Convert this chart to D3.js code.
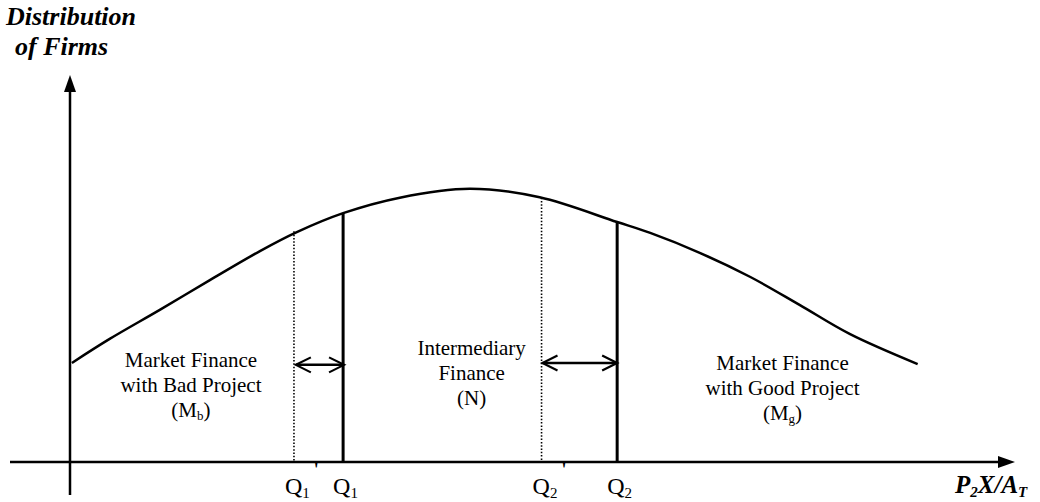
<!DOCTYPE html>
<html>
<head>
<meta charset="utf-8">
<script src="https://cdn.jsdelivr.net/npm/d3@7"></script>
<style>
  html, body { margin: 0; padding: 0; background: #fff; }
  svg { display: block; }
  text { font-family: "Liberation Serif", "Times New Roman", serif; fill: #000; }
</style>
</head>
<body>
<svg id="chart"></svg>
<script>
// Distribution curve (x = P2X/AT position, y = density)
const curveX = [0.2, 4.2, 9.5, 14.8, 20.1, 24.0, 28.9, 34.9, 42.3, 49.7, 57.9, 61.4, 66.7, 72.0, 77.2, 82.5, 89.7];
const curveY = [25.6, 31.8, 39.3, 47.0, 54.5, 59.4, 64.3, 68.3, 70.6, 68.4, 62.0, 59.2, 54.0, 47.8, 40.6, 33.1, 25.3];

// Cutoff points Q1', Q1, Q2', Q2
const cutoffX = [23.7, 28.9, 49.9, 57.9];
const cutoffTop = [59.6, 64.3, 68.3, 62.0];
const cutoffSub = ["1", "1", "2", "2"];
const cutoffPrime = [true, false, true, false];

// Double arrows between shifted cutoffs
const arrowFrom = [23.9, 50.0];
const arrowTo = [29.0, 57.9];
const arrowLevel = [25.1, 25.6];

// Region labels
const regionX = [12.8, 42.5, 75.4];
const regionY = [24.5, 27.6, 23.8];
const regionLines = [
    ["Market Finance", "with Bad Project"],
    ["Intermediary", "Finance"],
    ["Market Finance", "with Good Project"]
];
const regionSymbol = [["(M", "b", ")"], ["(N", "", ")"], ["(M", "g", ")"]];

const dimensions = { width: 1040, height: 502 };

const xScale = d3.scaleLinear().domain([0, 100]).range([70, 1015]);
const yScale = d3.scaleLinear().domain([0, 100]).range([462, 75]);

const svg = d3.select("#chart")
    .attr("width", dimensions.width)
    .attr("height", dimensions.height);

// Axes
svg.append("line")
    .attr("x1", 10).attr("x2", xScale(100) - 8)
    .attr("y1", yScale(0)).attr("y2", yScale(0))
    .attr("stroke", "#000").attr("stroke-width", 2.5);
svg.append("path")
    .attr("d", `M${xScale(100) - 17},${yScale(0) - 6} L${xScale(100)},${yScale(0)} L${xScale(100) - 17},${yScale(0) + 6} Z`)
    .attr("fill", "#000");

svg.append("line")
    .attr("x1", xScale(0)).attr("x2", xScale(0))
    .attr("y1", yScale(100) + 8).attr("y2", 495)
    .attr("stroke", "#000").attr("stroke-width", 2.5);
svg.append("path")
    .attr("d", `M${xScale(0) - 6},${yScale(100) + 17} L${xScale(0)},${yScale(100)} L${xScale(0) + 6},${yScale(100) + 17} Z`)
    .attr("fill", "#000");

// Curve
const line = d3.line()
    .x((d, i) => xScale(curveX[i]))
    .y(d => yScale(d))
    .curve(d3.curveCatmullRom);

svg.append("path")
    .datum(curveY)
    .attr("d", line)
    .attr("fill", "none")
    .attr("stroke", "#000")
    .attr("stroke-width", 2.5);

// Cutoff lines
cutoffX.forEach((cx, i) => {
    svg.append("line")
        .attr("x1", xScale(cx)).attr("x2", xScale(cx))
        .attr("y1", yScale(cutoffTop[i])).attr("y2", yScale(0))
        .attr("stroke", "#000")
        .attr("stroke-width", cutoffPrime[i] ? 1.6 : 3)
        .attr("stroke-dasharray", cutoffPrime[i] ? "1.5,1.8" : null);

    const t = svg.append("text")
        .attr("x", xScale(cx) + (cutoffPrime[i] ? -9 : -10))
        .attr("y", 494)
        .style("font-size", "24px");
    t.append("tspan").text("Q");
    t.append("tspan").attr("dy", 4).style("font-size", "15px").text(cutoffSub[i]);
    if (cutoffPrime[i]) {
        t.append("tspan").attr("dx", 4).attr("dy", -22).style("font-size", "18px").style("font-weight", "bold").text("'");
    }
});

// Double arrows
arrowFrom.forEach((a, i) => {
    const x1 = xScale(a), x2 = xScale(arrowTo[i]), y = yScale(arrowLevel[i]);
    svg.append("line")
        .attr("x1", x1).attr("x2", x2).attr("y1", y).attr("y2", y)
        .attr("stroke", "#000").attr("stroke-width", 2.5);
    svg.append("path")
        .attr("d", `M${x1 + 15},${y - 7.5} L${x1},${y} L${x1 + 15},${y + 7.5}`)
        .attr("fill", "none").attr("stroke", "#000").attr("stroke-width", 2.2);
    svg.append("path")
        .attr("d", `M${x2 - 15},${y - 7.5} L${x2},${y} L${x2 - 15},${y + 7.5}`)
        .attr("fill", "none").attr("stroke", "#000").attr("stroke-width", 2.2);
});

// Region labels
regionLines.forEach((lines, i) => {
    const g = svg.append("text")
        .attr("text-anchor", "middle")
        .style("font-size", "21px");
    lines.forEach((l, j) => {
        g.append("tspan")
            .attr("x", xScale(regionX[i]))
            .attr("y", yScale(regionY[i]) + j * 25)
            .text(l);
    });
    const s = g.append("tspan")
        .attr("x", xScale(regionX[i]))
        .attr("y", yScale(regionY[i]) + lines.length * 25);
    s.text(regionSymbol[i][0]);
    if (regionSymbol[i][1]) {
        g.append("tspan").attr("dy", 3).style("font-size", "13px").text(regionSymbol[i][1]);
        g.append("tspan").attr("dy", -3).text(regionSymbol[i][2]);
    } else {
        g.append("tspan").text(regionSymbol[i][2]);
    }
});

// Axis titles
const yTitle = svg.append("text")
    .style("font-size", "26px")
    .style("font-weight", "bold")
    .style("font-style", "italic");
yTitle.append("tspan").attr("x", 6).attr("y", 25).text("Distribution");
yTitle.append("tspan").attr("x", 15).attr("y", 55).text("of Firms");

const xTitle = svg.append("text")
    .attr("x", 955)
    .attr("y", 493)
    .style("font-size", "25px")
    .style("font-weight", "bold")
    .style("font-style", "italic");
xTitle.append("tspan").text("P");
xTitle.append("tspan").attr("dy", 4).style("font-size", "15px").text("2");
xTitle.append("tspan").attr("dy", -4).text("X/A");
xTitle.append("tspan").attr("dy", 4).style("font-size", "15px").text("T");
</script>
</body>
</html>
